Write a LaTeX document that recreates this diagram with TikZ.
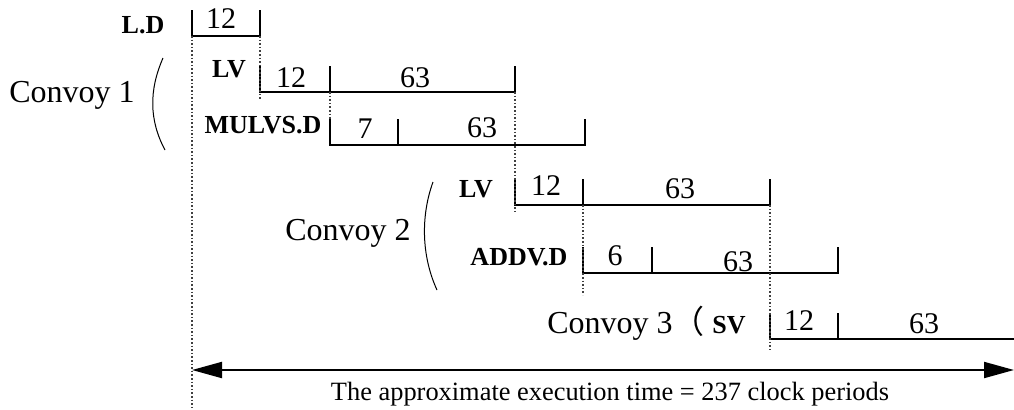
\documentclass[tikz,border=0pt]{standalone}
\usepackage{fontspec}
\setmainfont{Liberation Serif}
\newfontfamily\cjk{Noto Sans CJK SC}
\usepackage{tikz}
\usetikzlibrary{arrows.meta}
\tikzset{
  bar/.style={line width=1pt},
  guide/.style={densely dotted, line width=0.8pt, draw=black!75},
  opname/.style={font=\fontsize{13}{15}\selectfont\bfseries, anchor=base, inner sep=0pt},
  lat/.style={font=\fontsize{15}{17}\selectfont, anchor=base, inner sep=0pt},
  cvy/.style={font=\fontsize{16}{18}\selectfont, anchor=base, inner sep=0pt},
  paren/.style={line width=0.5pt},
  span/.style={{Triangle[length=15pt,width=8pt]}-{Triangle[length=15pt,width=8pt]}, line width=1pt}
}

\begin{document}
\begin{tikzpicture}[x=0.5pt, y=-0.5pt]
  \useasboundingbox (0,0) rectangle (1014,409);

  % start-up + pipelined part of each vector instruction
  \draw[bar] (192,10) |- (260,36) -- (260,10);
  \foreach \xa/\xb/\xc/\yy in {260/330/515/92, 330/398/585/145,
                               515/583/770/205, 583/652/838/273} {
    \draw[bar] (\xa,\yy-26) |- (\xc,\yy) -- (\xc,\yy-26);
    \draw[bar] (\xb,\yy-26) -- (\xb,\yy);
  }
  \draw[bar] (770,313) |- (1014,339);
  \draw[bar] (838,313) -- (838,339);

  % dependences between convoys
  \draw[guide] (192,36) -- (192,409);
  \draw[guide] (260,36) -- (260,99);
  \draw[guide] (330,92) -- (330,120);
  \draw[guide] (515,92) -- (515,212);
  \draw[guide] (583,205) -- (583,295);
  \draw[guide] (770,205) -- (770,350);

  % instruction names and cycle counts
  \node[opname] (ld) at (143,33) {L.D};
  \node[lat] (ld12) at (221,28) {12};

  \node[opname] (lvA) at (229,77) {LV};
  \node[lat] (lvA12) at (291,87) {12};
  \node[lat] (lvA63) at (415,87) {63};

  \node[opname] (mul) at (263,133) {MULVS.D};
  \node[lat] (mul7) at (365,138) {7};
  \node[lat] (mul63) at (482,137) {63};

  \node[opname] (lvB) at (476,197) {LV};
  \node[lat] (lvB12) at (546,195) {12};
  \node[lat] (lvB63) at (680,198) {63};

  \node[opname] (add) at (519,265) {ADDV.D};
  \node[lat] (add6) at (615,265) {6};
  \node[lat] (add63) at (738,271) {63};

  \node[opname] (sv) at (729,333) {SV};
  \node[lat] (sv12) at (799,330) {12};
  \node[lat] (sv63) at (924,333) {63};

  % convoys
  \node[cvy] (cvA) at (72,102) {Convoy 1};
  \draw[paren] (163,58) .. controls (149,90) and (149,120) .. (165,150);
  \node[cvy] (cvB) at (348,240) {Convoy 2};
  \draw[paren] (433,182) .. controls (421,215) and (421,255) .. (437,290);
  \node[cvy, anchor=base west] (cvC) at (547,333) {Convoy 3{\cjk （}};

  % total time
  \coordinate (t0) at (192,370);
  \coordinate (t1) at (1014,370);
  \draw[span] (t0) -- (t1);
  \node[font=\fontsize{13.2}{15}\selectfont, anchor=base, inner sep=0pt] (total) at (610,400)
    {The approximate execution time = 237 clock periods};
\end{tikzpicture}
\end{document}
